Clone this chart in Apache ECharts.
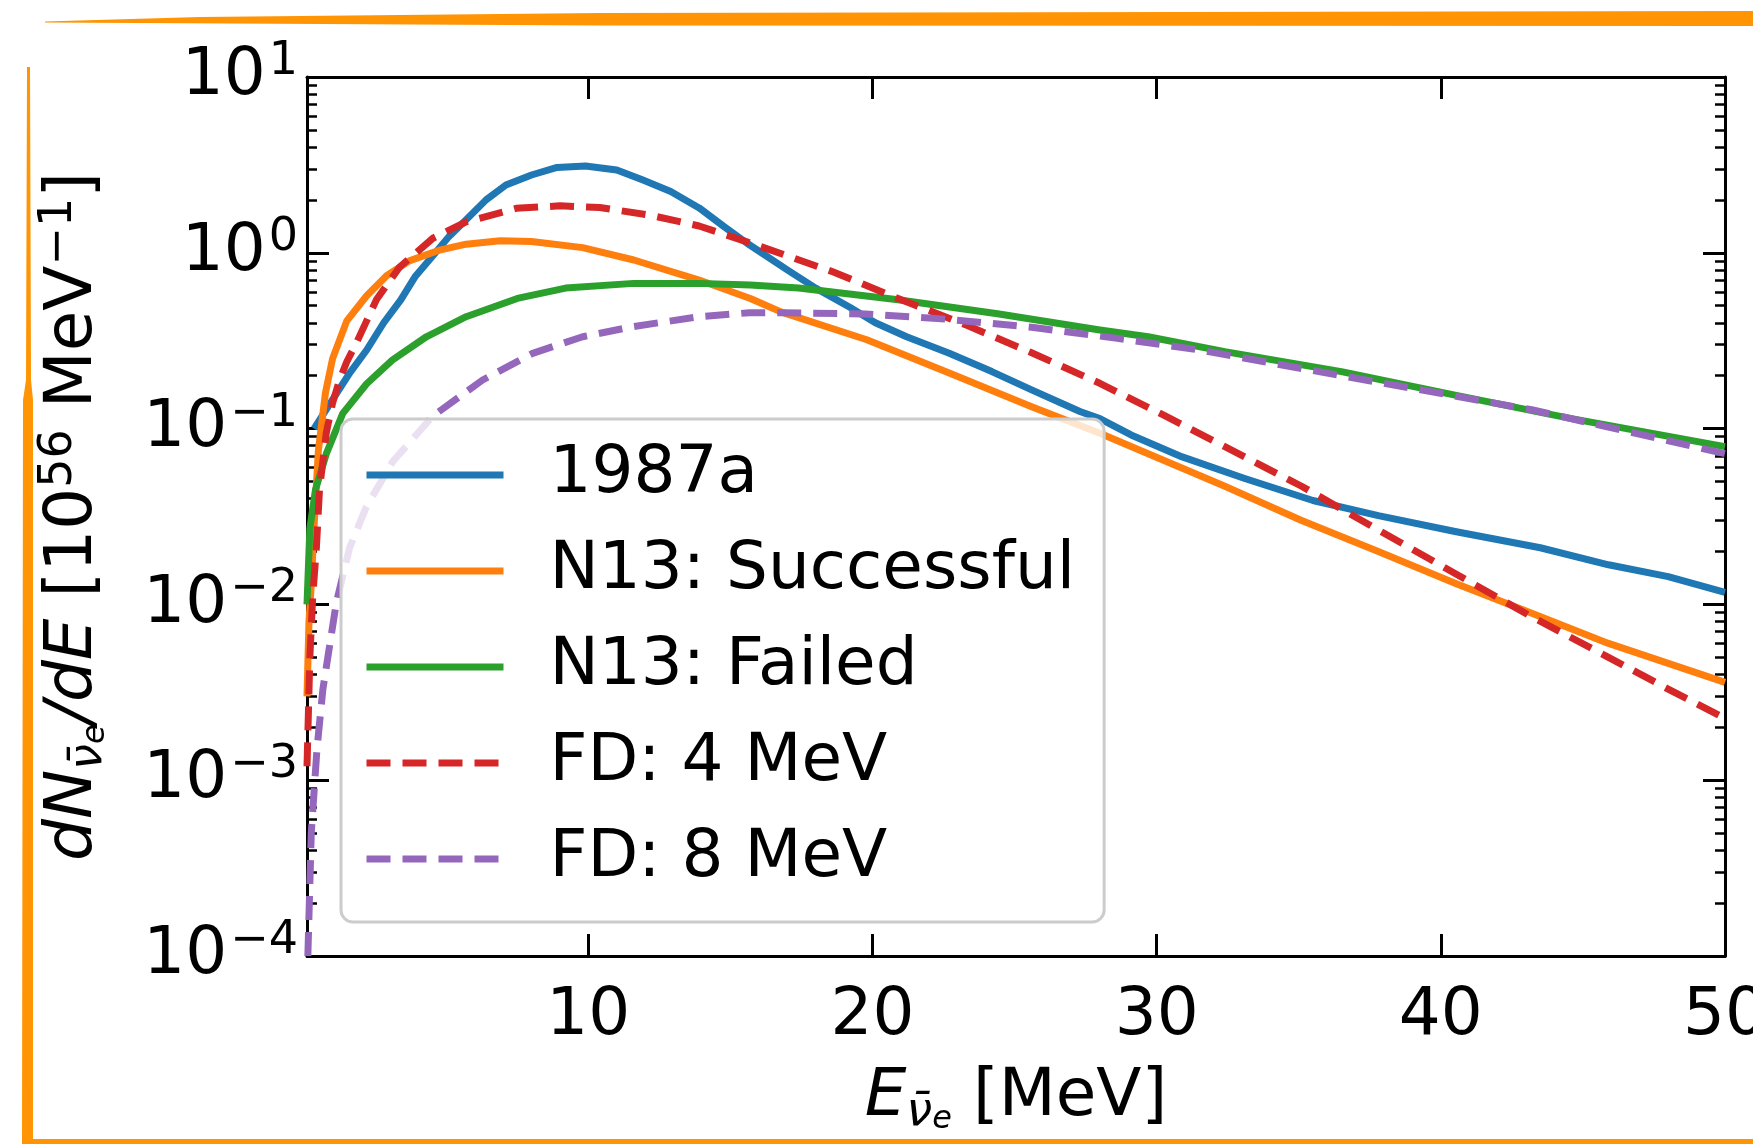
<!DOCTYPE html>
<html>
<head>
<meta charset="utf-8">
<script src="https://cdn.jsdelivr.net/npm/echarts@6/dist/echarts.min.js"></script>
<style>
  html, body { margin: 0; padding: 0; background: #fff; }
  #spectrum { width: 1753px; height: 1144px; }
</style>
</head>
<body>
<div id="spectrum"></div>
<script>
// values: energy in MeV, dN/dE in 1e56 / MeV
var energy1987a = [0.35, 1.0, 1.6, 2.2, 2.8, 3.4, 3.9, 4.5, 5.1, 5.7, 6.4, 7.1, 8.0, 8.9, 9.9, 11.0, 11.9, 12.9, 13.9, 14.8, 15.6, 17.0, 18.0, 19.2, 20.1, 21.2, 22.7, 24.2, 25.6, 27.3, 28.0, 29.1, 30.9, 33.1, 35.5, 37.8, 40.5, 43.5, 45.9, 48.0, 50.0];
var flux1987a = [0.100, 0.146, 0.207, 0.28, 0.40, 0.54, 0.73, 0.95, 1.24, 1.54, 2.0, 2.43, 2.77, 3.06, 3.12, 2.96, 2.6, 2.23, 1.8, 1.4, 1.13, 0.80, 0.63, 0.49, 0.40, 0.333, 0.268, 0.211, 0.166, 0.125, 0.114, 0.092, 0.069, 0.052, 0.039, 0.032, 0.026, 0.021, 0.0168, 0.0144, 0.0117];

var energySuccess = [0.1, 0.17, 0.25, 0.35, 0.5, 0.75, 1.0, 1.5, 2.2, 2.9, 3.7, 4.8, 5.7, 6.9, 8.0, 9.8, 11.6, 13.9, 15.7, 16.8, 19.8, 22.7, 25.6, 28.0, 29.7, 32.4, 35.1, 37.8, 40.5, 43.2, 45.9, 50.0];
var fluxSuccess = [0.003, 0.008, 0.013, 0.028, 0.075, 0.16, 0.25, 0.41, 0.57, 0.74, 0.90, 1.04, 1.12, 1.17, 1.16, 1.07, 0.91, 0.70, 0.55, 0.46, 0.32, 0.207, 0.133, 0.094, 0.072, 0.047, 0.030, 0.020, 0.0132, 0.0089, 0.006, 0.0036];

var energyFailed = [0.1, 0.2, 0.4, 0.78, 1.36, 2.2, 3.1, 4.3, 5.7, 7.5, 9.2, 11.6, 13.9, 15.7, 17.4, 20.9, 24.4, 28.0, 29.7, 32.4, 36.5, 40.5, 44.6, 50.0];
var fluxFailed = [0.01, 0.027, 0.045, 0.072, 0.122, 0.18, 0.245, 0.333, 0.433, 0.55, 0.63, 0.67, 0.67, 0.656, 0.63, 0.54, 0.45, 0.364, 0.333, 0.274, 0.211, 0.155, 0.114, 0.079];

var energyFD4 = [0.1, 0.2, 0.3, 0.43, 0.54, 0.78, 1.0, 1.25, 1.5, 1.83, 2.54, 3.36, 4.53, 5.7, 7.46, 9.0, 10.4, 12.15, 13.9, 15.4, 16.25, 18.6, 20.9, 23.3, 25.6, 28.0, 30.3, 32.4, 35.1, 37.8, 40.5, 43.2, 45.9, 48.0, 50.0];
var fluxFD4 = [0.0012, 0.005, 0.011, 0.021, 0.045, 0.095, 0.14, 0.19, 0.24, 0.305, 0.54, 0.83, 1.21, 1.5, 1.79, 1.85, 1.81, 1.64, 1.42, 1.18, 1.06, 0.78, 0.55, 0.388, 0.27, 0.181, 0.118, 0.079, 0.047, 0.0265, 0.015, 0.0085, 0.005, 0.0033, 0.00225];

var energyFD8 = [0.13, 0.25, 0.45, 0.66, 1.13, 1.6, 2.19, 3.12, 4.53, 6.28, 8.04, 9.8, 11.56, 13.9, 15.66, 16.83, 19.76, 22.7, 25.6, 28.55, 31.5, 36.5, 43.2, 50.0];
var fluxFD8 = [0.0001, 0.0005, 0.0015, 0.0033, 0.0102, 0.021, 0.036, 0.065, 0.118, 0.189, 0.268, 0.333, 0.38, 0.433, 0.456, 0.456, 0.449, 0.418, 0.377, 0.327, 0.28, 0.2, 0.128, 0.072];

var seriesNames = ['1987a', 'N13: Successful', 'N13: Failed', 'FD: 4 MeV', 'FD: 8 MeV'];
var xTicks = [10, 20, 30, 40, 50];
var yTicks = [1e-4, 1e-3, 1e-2, 1e-1, 1, 10];

var FONT = 'DejaVu Sans';
var frameColor = '#ff9505';
var LW = 7;
var DASH = [24, 12];

var yMinor = [];
for (var p = -4; p <= 0; p++) {
  for (var k = 2; k <= 9; k++) yMinor.push(k * Math.pow(10, p));
}

var chart = echarts.init(document.getElementById('spectrum'));

function pairs(xs, ys) {
  return xs.map(function (x, i) { return [x, ys[i]]; });
}

function curve(name, xs, ys, color, dashed) {
  return {
    name: name,
    type: 'line',
    symbol: 'none',
    smooth: false,
    data: pairs(xs, ys),
    lineStyle: { color: color, width: LW, type: dashed ? DASH : 'solid', cap: 'butt', join: 'round' },
    itemStyle: { color: color },
    emphasis: { disabled: true }
  };
}

function yAxisPart(pos, minor, labels) {
  return {
    type: 'log',
    logBase: 10,
    min: 1e-4,
    max: 10,
    position: pos,
    axisLine: { show: !minor, lineStyle: { color: '#000', width: 3 } },
    axisTick: {
      show: true, inside: true, length: minor ? 10 : 22,
      lineStyle: { color: '#000', width: minor ? 2.5 : 3 },
      customValues: minor ? yMinor : yTicks
    },
    minorTick: { show: false },
    splitLine: { show: false },
    axisLabel: labels ? {
      show: true,
      customValues: yTicks,
      margin: 9,
      formatter: function (v) {
        var e = Math.round(Math.log10(v));
        return '{b|10}{s|' + (e < 0 ? '\u2212' + (-e) : e) + '}';
      },
      rich: {
        b: { fontFamily: FONT, fontSize: 66, lineHeight: 76, color: '#000' },
        s: { fontFamily: FONT, fontSize: 46, lineHeight: 40, verticalAlign: 'top', color: '#000', padding: [0, 0, 0, 3] }
      }
    } : { show: false }
  };
}

var legendItems = [
  { name: seriesNames[0], lineStyle: { width: LW, type: 'solid' } },
  { name: seriesNames[1], lineStyle: { width: LW, type: 'solid' } },
  { name: seriesNames[2], lineStyle: { width: LW, type: 'solid' } },
  { name: seriesNames[3], lineStyle: { width: LW, type: DASH } },
  { name: seriesNames[4], lineStyle: { width: LW, type: DASH } }
];

var option = {
  animation: false,
  backgroundColor: '#fff',
  grid: { left: 307, right: 28, top: 77, bottom: 188, outerBoundsMode: 'none' },
  xAxis: [
    {
      type: 'value', min: 0.1, max: 50, position: 'bottom',
      axisLine: { lineStyle: { color: '#000', width: 3 } },
      axisTick: { inside: true, length: 22, lineStyle: { color: '#000', width: 3 }, customValues: xTicks },
      axisLabel: { customValues: xTicks, margin: 28, fontFamily: FONT, fontSize: 66, lineHeight: 66, color: '#000' },
      splitLine: { show: false },
      name: '{i|E}{sub|\u03bd\u0304}{sub2|e}{t| [MeV]}',
      nameLocation: 'middle',
      nameGap: 104,
      nameTextStyle: {
        rich: {
          i: { fontFamily: FONT, fontSize: 66, lineHeight: 76, fontStyle: 'italic', color: '#000' },
          sub: { fontFamily: FONT, fontSize: 46, lineHeight: 34, fontStyle: 'italic', verticalAlign: 'bottom', color: '#000' },
          sub2: { fontFamily: FONT, fontSize: 32, lineHeight: 10, fontStyle: 'italic', verticalAlign: 'bottom', color: '#000' },
          t: { fontFamily: FONT, fontSize: 66, lineHeight: 76, color: '#000' }
        }
      }
    },
    {
      type: 'value', min: 0.1, max: 50, position: 'top',
      axisLine: { lineStyle: { color: '#000', width: 3 } },
      axisTick: { inside: true, length: 22, lineStyle: { color: '#000', width: 3 }, customValues: xTicks },
      axisLabel: { show: false },
      splitLine: { show: false }
    }
  ],
  yAxis: [
    Object.assign(yAxisPart('left', false, true), {
      name: '{i|dN}{sub|\u03bd\u0304}{sub2|e}{i|/dE}{t| [10}{sup|56}{t| MeV}{sup|\u22121}{t|]}',
      nameLocation: 'middle',
      nameGap: 195,
      nameTextStyle: {
        rich: {
          i: { fontFamily: FONT, fontSize: 66, lineHeight: 76, fontStyle: 'italic', color: '#000' },
          sub: { fontFamily: FONT, fontSize: 46, lineHeight: 34, fontStyle: 'italic', verticalAlign: 'bottom', color: '#000' },
          sub2: { fontFamily: FONT, fontSize: 32, lineHeight: 10, fontStyle: 'italic', verticalAlign: 'bottom', color: '#000' },
          t: { fontFamily: FONT, fontSize: 66, lineHeight: 76, color: '#000' },
          sup: { fontFamily: FONT, fontSize: 46, lineHeight: 32, verticalAlign: 'top', color: '#000' }
        }
      }
    }),
    yAxisPart('left', true, false),
    yAxisPart('right', false, false),
    yAxisPart('right', true, false)
  ],
  legend: {
    data: legendItems,
    orient: 'vertical',
    left: 341,
    top: 419,
    padding: [23, 29, 30, 22],
    itemWidth: 137,
    itemHeight: 66,
    itemGap: 30,
    selectedMode: false,
    backgroundColor: 'rgba(255,255,255,0.8)',
    borderColor: '#cccccc',
    borderWidth: 3,
    borderRadius: 12,
    itemStyle: { opacity: 0 },
    lineStyle: { width: LW },
    textStyle: { fontFamily: FONT, fontSize: 66, lineHeight: 66, color: '#000', padding: [0, 0, 0, 41] }
  },
  series: [
    curve(seriesNames[0], energy1987a, flux1987a, '#1f77b4', false),
    curve(seriesNames[1], energySuccess, fluxSuccess, '#ff7f0e', false),
    curve(seriesNames[2], energyFailed, fluxFailed, '#2ca02c', false),
    curve(seriesNames[3], energyFD4, fluxFD4, '#d62728', true),
    curve(seriesNames[4], energyFD8, fluxFD8, '#9467bd', true)
  ],
  graphic: [
    { type: 'polygon', silent: true, shape: { points: [[45, 21.5], [200, 17], [600, 13], [1753, 11], [1753, 26], [600, 25.5], [45, 22.5]] }, style: { fill: frameColor } },
    { type: 'polygon', silent: true, shape: { points: [[27, 67], [30, 67], [31, 380], [33, 400], [33, 1144], [22, 1144], [23, 400], [26, 380]] }, style: { fill: frameColor } },
    { type: 'rect', silent: true, shape: { x: 22, y: 1139, width: 1731, height: 5 }, style: { fill: frameColor } }
  ]
};

chart.setOption(option);
</script>
</body>
</html>
